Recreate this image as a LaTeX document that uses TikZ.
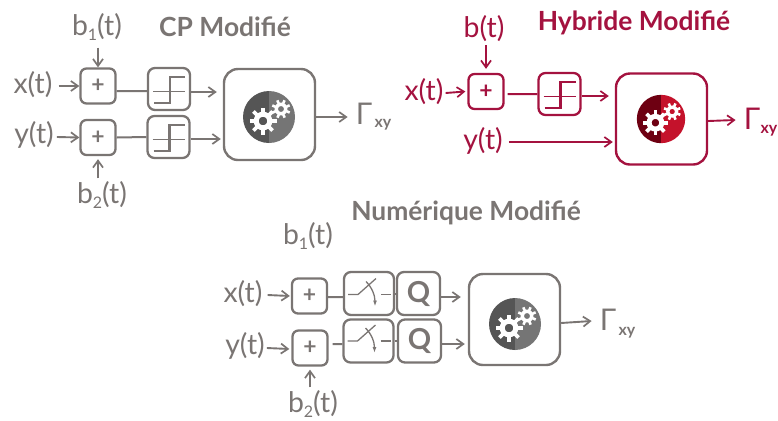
\documentclass[tikz,border=0pt]{standalone}
\usepackage{fontspec}
\setmainfont{Lato}[BoldFont={Lato Bold}]
\usetikzlibrary{arrows.meta}
\definecolor{grayc}{HTML}{7A7573}
\definecolor{redc}{HTML}{A4123F}
\definecolor{geardark}{HTML}{555555}
\definecolor{gearlight}{HTML}{757575}
\definecolor{reddark}{HTML}{6E0012}
\definecolor{redlight}{HTML}{C4122B}
\newcommand{\lowidx}[1]{\raisebox{-5bp}{\fontsize{16}{16}\selectfont #1}}
\tikzset{
  x=1bp,y=-1bp,
  lbl/.style={inner sep=0pt,font=\fontsize{28.5}{28.5}\selectfont},
  gam/.style={inner sep=0pt,font=\fontsize{30}{30}\selectfont},
  ttl/.style={inner sep=0pt,font=\fontsize{26.5}{26.5}\selectfont\bfseries},
  sub/.style={inner sep=0pt,font=\fontsize{16}{16}\selectfont\bfseries},
  addbox/.style={draw,rounded corners=6bp,line width=2.3bp,minimum width=35bp,minimum height=35bp,inner sep=0pt,font=\fontsize{23}{23}\selectfont\bfseries},
  stepbox/.style={draw,rounded corners=7bp,line width=2.3bp,minimum width=42bp,minimum height=42bp,inner sep=0pt},
  swbox/.style={draw,rounded corners=7bp,line width=2.3bp,minimum width=50bp,minimum height=43bp,inner sep=0pt},
  qbox/.style={draw,rounded corners=7bp,line width=2.3bp,minimum width=43bp,minimum height=43bp,inner sep=0pt,font=\fontsize{29}{29}\selectfont\bfseries},
  mainbox/.style={draw,rounded corners=14bp,line width=2.4bp,minimum width=91bp,minimum height=91bp,inner sep=0pt},
  conn/.style={line width=1.9bp,-{Straight Barb[length=7bp,width=10bp,line width=1.7bp]}},
  link/.style={line width=2bp},
  pics/stepsym/.style={code={
    \draw[line width=2.6bp] (-15,14)--(1,14)--(1,-12)--(16,-12);
    \draw[line width=1bp] (-16,2)--(16,2);
  }},
  pics/switchsym/.style={code={
    \draw[line width=1.3bp] (-21,1)--(-11,1)--(7,-15);
    \draw[line width=1.3bp] (12,1)--(22,1);
    \draw[line width=1.3bp,-{Latex[length=6bp,width=4bp]}] (-3,-12) .. controls (3,-6) and (6,2) .. (6,13);
  }},
  pics/gearset/.style 2 args={code={
    \fill[#1] (0,-26) arc[start angle=-90,end angle=-270,radius=26] -- cycle;
    \fill[#2] (0,-26) arc[start angle=-90,end angle=90,radius=26] -- cycle;
    \begin{scope}[shift={(-6,4)}]
      \foreach \a in {0,45,...,315} \draw[white,line width=3.8bp] (\a:7) -- (\a:13.5);
      \draw[white,line width=5bp] (0,0) circle[radius=6.8];
    \end{scope}
    \begin{scope}[shift={(12,-8)}]
      \foreach \a in {22,67,...,337} \draw[white,line width=2.6bp] (\a:4.5) -- (\a:9.4);
      \draw[white,line width=3.2bp] (0,0) circle[radius=4.8];
    \end{scope}
  }},
}
\begin{document}
\begin{tikzpicture}
\useasboundingbox (0,0) rectangle (778,420);
% ---------- CP
\begin{scope}[color=grayc,text=grayc]
\node[ttl] (t1) at (225,27) {CP Modifié};
\node[lbl] (b1) at (97,27) {b\lowidx{1}(t)};
\node[lbl] (x1) at (33,85) {x(t)};
\node[lbl] (y1) at (34,135) {y(t)};
\node[lbl] (b2) at (102,195) {b\lowidx{2}(t)};
\node[addbox] (p1) at (98,86) {+};
\node[addbox] (p2) at (98,137.5) {+};
\node[stepbox] (s1) at (169,89) {};
\node[stepbox] (s2) at (168.5,137) {};
\node[mainbox] (m1) at (269.5,114.5) {};
\pic at (s1.center) {stepsym};
\pic at (s2.center) {stepsym};
\pic at (269,117) {gearset={geardark}{gearlight}};
\node[gam] (g1) at (364,114) {Γ};
\node[sub] (xy1) at (383,125) {xy};
\draw[conn] ([yshift=-1bp]b1.south -| p1.north) ++(0,6) -- (p1.north);
\draw[conn] ([xshift=6bp,yshift=-1bp]x1.east) -- (p1.west);
\draw[conn] ([xshift=3bp,yshift=-2bp]y1.east) -- (p2.west);
\draw[conn] ([yshift=3bp]b2.north -| p2.south) -- ([yshift=-3bp]p2.south);
\draw[link] ([yshift=-5bp]p1.east) -- ([yshift=-2bp]s1.west);
\draw[link] (p2.east) -- (s2.west);
\draw[conn] ([yshift=-3bp]s1.east) -- ([xshift=-6bp,yshift=-3bp]s1.east -| m1.west);
\draw[conn] ([yshift=-2bp]s2.east) -- ([xshift=-2bp,yshift=-2bp]s2.east -| m1.west);
\draw[conn] ([yshift=-2.5bp]m1.east) -- ([xshift=-8bp,yshift=-3bp]g1.west);
\end{scope}
% ---------- Hybride
\begin{scope}[color=redc,text=redc]
\node[ttl] (t2) at (634,23) {Hybride Modifié};
\node[lbl] (b3) at (484,29) {b(t)};
\node[lbl] (x3) at (424,92) {x(t)};
\node[lbl] (y3) at (483,141) {y(t)};
\node[addbox] (p3) at (486,91.5) {+};
\node[stepbox] (s3) at (559.5,94) {};
\node[mainbox] (m3) at (661.5,119) {};
\pic at (s3.center) {stepsym};
\pic[scale=.93] at (661,119) {gearset={reddark}{redlight}};
\node[gam] (g3) at (752,119) {Γ};
\node[sub] (xy3) at (769,131) {xy};
\draw[conn] ([yshift=-3bp]b3.south -| p3.north) -- ([yshift=4bp]p3.north);
\draw[conn] ([xshift=2bp,yshift=-1bp]x3.east) -- ([xshift=-2bp]p3.west);
\draw[conn] ([xshift=6bp,yshift=-1bp]y3.east) -- ([xshift=-2bp,yshift=-1bp]y3.east -| m3.west);
\draw[link] ([xshift=3bp,yshift=-2.5bp]p3.east) -- (s3.west);
\draw[conn] ([yshift=-2bp]s3.east) -- ([xshift=-6bp,yshift=-2bp]s3.east -| m3.west);
\draw[conn] ([yshift=-2bp]m3.east) -- ([xshift=-8bp,yshift=-1bp]g3.west);
\end{scope}
% ---------- Numerique
\begin{scope}[color=grayc,text=grayc]
\node[ttl] (t5) at (466,213) {Numérique Modifié};
\node[lbl] (b5) at (308,236) {b\lowidx{1}(t)};
\node[lbl] (x5) at (243,294) {x(t)};
\node[lbl] (y5) at (245,346) {y(t)};
\node[lbl] (b6) at (313,404) {b\lowidx{2}(t)};
\node[addbox] (p5) at (309.5,296) {+};
\node[addbox] (p6) at (310,348) {+};
\node[swbox] (w5) at (369,293.5) {};
\node[qbox] (q5) at (418.5,293.5) {Q};
\node[swbox] (w6) at (368.5,341) {};
\node[qbox] (q6) at (419.5,341) {Q};
\node[mainbox] (m5) at (514.5,319.5) {};
\pic at (w5.center) {switchsym};
\pic at ([yshift=1bp]w6.center) {switchsym};
\pic at (515,324) {gearset={geardark}{gearlight}};
\node[gam] (g5) at (608,320) {Γ};
\node[sub] (xy5) at (627,333) {xy};
\draw[conn] ([xshift=5bp,yshift=-1bp]x5.east) -- ([xshift=-1bp]p5.west);
\draw[conn] ([xshift=2bp,yshift=-2bp]y5.east) -- ([xshift=-2bp,yshift=-1bp]p6.west);
\draw[conn] ([yshift=3bp]b6.north -| p6.south) -- ([yshift=-3bp]p6.south);
\draw[link] ([yshift=-1bp]p5.east) -- ([yshift=-3.5bp]w5.west);
\draw[link] ([xshift=4bp,yshift=4bp]p6.east) -- ([yshift=-3bp]w6.west);
\draw[link] (w5.east) -- (q5.west);
\draw[link] (w6.east) -- (q6.west);
\draw[conn] ([yshift=-3.5bp]q5.east) -- ([xshift=-7bp,yshift=-3.5bp]q5.east -| m5.west);
\draw[conn] ([yshift=-3bp]q6.east) -- ([xshift=-3bp,yshift=-3bp]q6.east -| m5.west);
\draw[conn] ([yshift=-3.5bp]m5.east) -- ([xshift=-8bp,yshift=-1bp]g5.west);
\end{scope}
\end{tikzpicture}
\end{document}
